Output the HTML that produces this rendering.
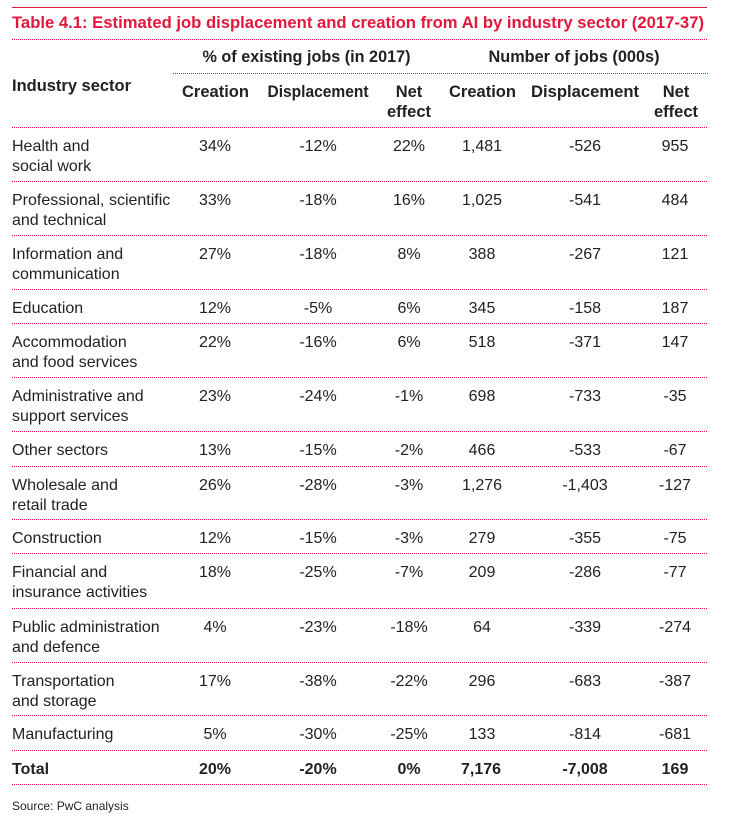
<!DOCTYPE html>
<html>
<head>
<meta charset="utf-8">
<style>
  html, body { margin: 0; padding: 0; background: #ffffff; }
  svg { display: block; }
  .t { font-family: "Liberation Sans", Arial, sans-serif; fill: #222222; }
  .b { font-weight: bold; }
  .h { font-size: 16.5px; font-weight: bold; }
  .v { font-size: 16px; }
</style>
</head>
<body>
<svg width="748" height="831" viewBox="0 0 748 831" xmlns="http://www.w3.org/2000/svg">
  <rect width="748" height="831" fill="#ffffff"/>
  <!-- top solid line -->
  <line x1="12" y1="7.5" x2="707" y2="7.5" stroke="#e2173b" stroke-width="1"/>
  <!-- title -->
  <text x="12" y="28" class="t" style="font-size:16.5px;font-weight:bold;fill:#e2173b" textLength="692" lengthAdjust="spacingAndGlyphs">Table 4.1: Estimated job displacement and creation from AI by industry sector (2017-37)</text>

  <g stroke="#e0103f" stroke-width="1" stroke-dasharray="1 1">
    <line x1="12" y1="39.5" x2="708" y2="39.5"/>
    <line x1="173" y1="73.5" x2="708" y2="73.5"/>
    <line x1="12" y1="127.5" x2="708" y2="127.5"/>
    <line x1="12" y1="181.5" x2="708" y2="181.5"/>
    <line x1="12" y1="235.5" x2="708" y2="235.5"/>
    <line x1="12" y1="289.5" x2="708" y2="289.5"/>
    <line x1="12" y1="323.5" x2="708" y2="323.5"/>
    <line x1="12" y1="377.5" x2="708" y2="377.5"/>
    <line x1="12" y1="431.5" x2="708" y2="431.5"/>
    <line x1="12" y1="466.5" x2="708" y2="466.5"/>
    <line x1="12" y1="519.5" x2="708" y2="519.5"/>
    <line x1="12" y1="553.5" x2="708" y2="553.5"/>
    <line x1="12" y1="608.5" x2="708" y2="608.5"/>
    <line x1="12" y1="662.5" x2="708" y2="662.5"/>
    <line x1="12" y1="715.5" x2="708" y2="715.5"/>
    <line x1="12" y1="750.5" x2="708" y2="750.5"/>
    <line x1="12" y1="784.5" x2="708" y2="784.5"/>
  </g>

  <!-- headers -->
  <g class="t h">
    <text x="306.5" y="62" text-anchor="middle" textLength="208" lengthAdjust="spacingAndGlyphs">% of existing jobs (in 2017)</text>
    <text x="574" y="62" text-anchor="middle" textLength="171" lengthAdjust="spacingAndGlyphs">Number of jobs (000s)</text>
    <text x="12" y="91" textLength="119" lengthAdjust="spacingAndGlyphs">Industry sector</text>
    <text x="215.5" y="97" text-anchor="middle" textLength="67" lengthAdjust="spacingAndGlyphs">Creation</text>
    <text x="318" y="97" text-anchor="middle" textLength="101" lengthAdjust="spacingAndGlyphs">Displacement</text>
    <text x="409" y="97" text-anchor="middle">Net</text>
    <text x="409" y="117" text-anchor="middle">effect</text>
    <text x="482.5" y="97" text-anchor="middle" textLength="67" lengthAdjust="spacingAndGlyphs">Creation</text>
    <text x="585" y="97" text-anchor="middle" textLength="108" lengthAdjust="spacingAndGlyphs">Displacement</text>
    <text x="676" y="97" text-anchor="middle">Net</text>
    <text x="676" y="117" text-anchor="middle">effect</text>
  </g>

  <!-- body rows -->
  <g class="t v">
    <text x="12" y="151">Health and</text>
    <text x="12" y="171">social work</text>
    <text x="215" y="151" text-anchor="middle">34%</text>
    <text x="318" y="151" text-anchor="middle">-12%</text>
    <text x="409" y="151" text-anchor="middle">22%</text>
    <text x="482" y="151" text-anchor="middle">1,481</text>
    <text x="585" y="151" text-anchor="middle">-526</text>
    <text x="675" y="151" text-anchor="middle">955</text>

    <text x="12" y="205">Professional, scientific</text>
    <text x="12" y="225">and technical</text>
    <text x="215" y="205" text-anchor="middle">33%</text>
    <text x="318" y="205" text-anchor="middle">-18%</text>
    <text x="409" y="205" text-anchor="middle">16%</text>
    <text x="482" y="205" text-anchor="middle">1,025</text>
    <text x="585" y="205" text-anchor="middle">-541</text>
    <text x="675" y="205" text-anchor="middle">484</text>

    <text x="12" y="259">Information and</text>
    <text x="12" y="279">communication</text>
    <text x="215" y="259" text-anchor="middle">27%</text>
    <text x="318" y="259" text-anchor="middle">-18%</text>
    <text x="409" y="259" text-anchor="middle">8%</text>
    <text x="482" y="259" text-anchor="middle">388</text>
    <text x="585" y="259" text-anchor="middle">-267</text>
    <text x="675" y="259" text-anchor="middle">121</text>

    <text x="12" y="313">Education</text>
    <text x="215" y="313" text-anchor="middle">12%</text>
    <text x="318" y="313" text-anchor="middle">-5%</text>
    <text x="409" y="313" text-anchor="middle">6%</text>
    <text x="482" y="313" text-anchor="middle">345</text>
    <text x="585" y="313" text-anchor="middle">-158</text>
    <text x="675" y="313" text-anchor="middle">187</text>

    <text x="12" y="347">Accommodation</text>
    <text x="12" y="367">and food services</text>
    <text x="215" y="347" text-anchor="middle">22%</text>
    <text x="318" y="347" text-anchor="middle">-16%</text>
    <text x="409" y="347" text-anchor="middle">6%</text>
    <text x="482" y="347" text-anchor="middle">518</text>
    <text x="585" y="347" text-anchor="middle">-371</text>
    <text x="675" y="347" text-anchor="middle">147</text>

    <text x="12" y="401">Administrative and</text>
    <text x="12" y="421">support services</text>
    <text x="215" y="401" text-anchor="middle">23%</text>
    <text x="318" y="401" text-anchor="middle">-24%</text>
    <text x="409" y="401" text-anchor="middle">-1%</text>
    <text x="482" y="401" text-anchor="middle">698</text>
    <text x="585" y="401" text-anchor="middle">-733</text>
    <text x="675" y="401" text-anchor="middle">-35</text>

    <text x="12" y="455">Other sectors</text>
    <text x="215" y="455" text-anchor="middle">13%</text>
    <text x="318" y="455" text-anchor="middle">-15%</text>
    <text x="409" y="455" text-anchor="middle">-2%</text>
    <text x="482" y="455" text-anchor="middle">466</text>
    <text x="585" y="455" text-anchor="middle">-533</text>
    <text x="675" y="455" text-anchor="middle">-67</text>

    <text x="12" y="490">Wholesale and</text>
    <text x="12" y="510">retail trade</text>
    <text x="215" y="490" text-anchor="middle">26%</text>
    <text x="318" y="490" text-anchor="middle">-28%</text>
    <text x="409" y="490" text-anchor="middle">-3%</text>
    <text x="482" y="490" text-anchor="middle">1,276</text>
    <text x="585" y="490" text-anchor="middle">-1,403</text>
    <text x="675" y="490" text-anchor="middle">-127</text>

    <text x="12" y="543">Construction</text>
    <text x="215" y="543" text-anchor="middle">12%</text>
    <text x="318" y="543" text-anchor="middle">-15%</text>
    <text x="409" y="543" text-anchor="middle">-3%</text>
    <text x="482" y="543" text-anchor="middle">279</text>
    <text x="585" y="543" text-anchor="middle">-355</text>
    <text x="675" y="543" text-anchor="middle">-75</text>

    <text x="12" y="577">Financial and</text>
    <text x="12" y="597">insurance activities</text>
    <text x="215" y="577" text-anchor="middle">18%</text>
    <text x="318" y="577" text-anchor="middle">-25%</text>
    <text x="409" y="577" text-anchor="middle">-7%</text>
    <text x="482" y="577" text-anchor="middle">209</text>
    <text x="585" y="577" text-anchor="middle">-286</text>
    <text x="675" y="577" text-anchor="middle">-77</text>

    <text x="12" y="632">Public administration</text>
    <text x="12" y="652">and defence</text>
    <text x="215" y="632" text-anchor="middle">4%</text>
    <text x="318" y="632" text-anchor="middle">-23%</text>
    <text x="409" y="632" text-anchor="middle">-18%</text>
    <text x="482" y="632" text-anchor="middle">64</text>
    <text x="585" y="632" text-anchor="middle">-339</text>
    <text x="675" y="632" text-anchor="middle">-274</text>

    <text x="12" y="686">Transportation</text>
    <text x="12" y="706">and storage</text>
    <text x="215" y="686" text-anchor="middle">17%</text>
    <text x="318" y="686" text-anchor="middle">-38%</text>
    <text x="409" y="686" text-anchor="middle">-22%</text>
    <text x="482" y="686" text-anchor="middle">296</text>
    <text x="585" y="686" text-anchor="middle">-683</text>
    <text x="675" y="686" text-anchor="middle">-387</text>

    <text x="12" y="739">Manufacturing</text>
    <text x="215" y="739" text-anchor="middle">5%</text>
    <text x="318" y="739" text-anchor="middle">-30%</text>
    <text x="409" y="739" text-anchor="middle">-25%</text>
    <text x="482" y="739" text-anchor="middle">133</text>
    <text x="585" y="739" text-anchor="middle">-814</text>
    <text x="675" y="739" text-anchor="middle">-681</text>
  </g>

  <!-- Total -->
  <g class="t v b">
    <text x="12" y="774">Total</text>
    <text x="215" y="774" text-anchor="middle">20%</text>
    <text x="318" y="774" text-anchor="middle">-20%</text>
    <text x="409" y="774" text-anchor="middle">0%</text>
    <text x="481" y="774" text-anchor="middle">7,176</text>
    <text x="585" y="774" text-anchor="middle">-7,008</text>
    <text x="675" y="774" text-anchor="middle">169</text>
  </g>

  <text x="12" y="810" class="t" style="font-size:12px">Source: PwC analysis</text>
</svg>
</body>
</html>
